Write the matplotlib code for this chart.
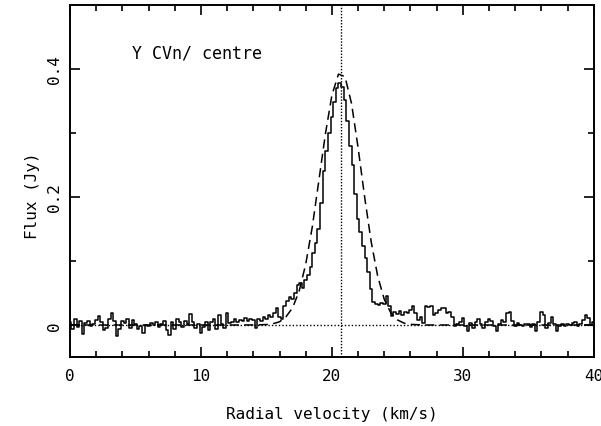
import numpy as np
import matplotlib
matplotlib.use("Agg")
import matplotlib.pyplot as plt

plt.rcParams["font.family"] = ["DejaVu Sans Mono"]

# observed spectrum, 0.2 km/s channels from 0 to 40 km/s
flux = [
    0.004, -0.006, 0.009, -0.003, 0.006, -0.014, 0.003, 0.007, -0.002, 0.001,
    0.008, 0.014, 0.004, -0.008, -0.004, 0.010, 0.019, 0.006, -0.017, -0.006,
    0.007, 0.003, 0.010, -0.004, 0.008, 0.002, -0.006, -0.001, -0.013, 0.000,
    -0.002, 0.003, 0.000, 0.004, -0.003, 0.002, 0.006, -0.008, -0.015, 0.005,
    -0.006, 0.009, 0.004, -0.003, 0.007, 0.001, 0.017, 0.004, -0.005, 0.002,
    -0.012, -0.003, 0.005, -0.008, 0.004, 0.009, -0.006, 0.015, 0.002, -0.004,
    0.018, 0.003, 0.005, 0.009, 0.004, 0.008, 0.006, 0.011, 0.007, 0.010,
    0.008, -0.004, 0.010, 0.006, 0.012, 0.009, 0.016, 0.012, 0.018, 0.027,
    0.012, 0.010, 0.030, 0.038, 0.043, 0.040, 0.050, 0.063, 0.066, 0.058,
    0.070, 0.078, 0.090, 0.112, 0.128, 0.150, 0.190, 0.240, 0.272, 0.300,
    0.325, 0.348, 0.370, 0.378, 0.372, 0.352, 0.318, 0.280, 0.250, 0.205,
    0.166, 0.146, 0.124, 0.104, 0.083, 0.057, 0.036, 0.033, 0.031, 0.034,
    0.033, 0.045, 0.030, 0.014, 0.020, 0.017, 0.022, 0.016, 0.021, 0.019,
    0.024, 0.030, 0.018, 0.008, 0.012, 0.003, 0.030, 0.028, 0.029, 0.016,
    0.018, 0.024, 0.027, 0.026, 0.019, 0.020, 0.012, -0.001, 0.002, 0.004,
    0.011, -0.002, -0.009, 0.003, -0.004, 0.005, 0.010, 0.002, -0.005, 0.004,
    0.010, 0.006, -0.002, -0.010, 0.001, 0.008, 0.004, 0.019, 0.020, 0.006,
    -0.001, 0.003, 0.000, -0.002, 0.002, 0.001, -0.003, 0.001, -0.010, 0.004,
    0.020, 0.016, -0.004, 0.003, 0.012, 0.002, -0.010, -0.002, 0.001, -0.001,
    0.001, 0.000, 0.003, 0.004, -0.002, 0.001, 0.008, 0.016, 0.011, 0.000,
    0.005,
]
vel = np.linspace(0.0, 40.0, len(flux))

# dashed comparison profile
v_fit = [0, 12, 13, 14, 15, 15.5, 16, 16.5, 17, 17.5, 18, 18.5, 19, 19.5,
         20, 20.5, 21, 21.5, 22, 22.5, 23, 23.5, 24, 24.5, 25, 25.5, 26,
         27, 28, 40]
f_fit = [0, 0, 0, 0.0001, 0.0007, 0.002, 0.005, 0.013, 0.027, 0.053, 0.095,
         0.153, 0.225, 0.298, 0.359, 0.392, 0.388, 0.346, 0.277, 0.200,
         0.130, 0.076, 0.040, 0.019, 0.008, 0.003, 0.001, 0, 0, 0]

v_sys = 20.7
label = "Y CVn/ centre"

fig = plt.figure(figsize=(6.01, 4.27), dpi=100)
ax = fig.add_axes([0.1165, 0.1616, 0.8715, 0.8244])

ax.axhline(0, color="k", lw=1.0, ls=(0, (1, 1.5)))
ax.axvline(v_sys, color="k", lw=1.0, ls=(0, (1, 1.2)))
ax.plot(v_fit, f_fit, color="k", lw=1.1, ls=(0, (6, 3.5)))
ax.plot(vel, flux, color="k", lw=1.1, drawstyle="steps-mid")

ax.text(4.7, 0.425, label, fontsize=12, ha="left", va="center")

ax.set_xlim(0, 40)
ax.set_ylim(-0.05, 0.5)
ax.set_xticks([0, 10, 20, 30, 40])
ax.set_xticks(np.arange(0, 41, 2), minor=True)
ax.set_yticks([0, 0.2, 0.4])
ax.set_yticklabels(["0", "0.2", "0.4"])
ax.set_yticks([0.1, 0.3], minor=True)
ax.tick_params(which="both", direction="in", top=True, right=True,
               width=1.2, labelsize=11.5)
ax.tick_params(which="major", length=7)
ax.tick_params(which="minor", length=4.5)
ax.tick_params(axis="y", labelrotation=90)
for lab in ax.get_yticklabels():
    lab.set_va("center")
ax.tick_params(axis="x", pad=8)
ax.tick_params(axis="y", pad=6)
for sp in ax.spines.values():
    sp.set_linewidth(1.4)

ax.set_xlabel("Radial velocity (km/s)", fontsize=11.5, labelpad=16.5)
ax.set_ylabel("Flux (Jy)", fontsize=11.5)
ax.yaxis.set_label_coords(-0.058, 0.46)

fig.savefig("out.png", dpi=100)
